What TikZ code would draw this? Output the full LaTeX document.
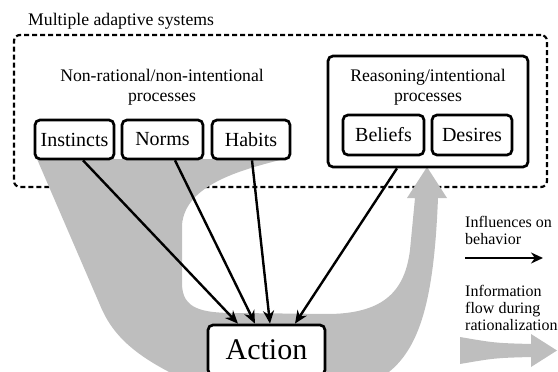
\documentclass[tikz,border=0pt]{standalone}
\usepackage{fontspec}
\setmainfont{Liberation Serif}
\newfontfamily\tnr{Liberation Serif}
\usetikzlibrary{arrows.meta,calc}
\definecolor{flowgray}{RGB}{190,190,190}
\begin{document}
\begin{tikzpicture}[x=1pt,y=-1pt,
  box/.style={draw=black, line width=2.7pt, rounded corners=5pt, fill=white, inner sep=0pt, font=\tnr\fontsize{20}{22}\selectfont},
  hdr/.style={align=center, font=\tnr\fontsize{17.7}{20}\selectfont, inner sep=0pt, anchor=north},
  infl/.style={line width=2.4pt, -{Stealth[length=13pt,width=11pt]}},
  leg/.style={align=left, anchor=north west, font=\tnr\fontsize{16}{17}\selectfont, inner sep=0pt},
  frame/.style={draw=black, line width=2.2pt, dash pattern=on 5pt off 3pt, rounded corners=6pt, inner sep=0pt},
]
\useasboundingbox (0,0) rectangle (558,372);

% outer dashed frame
\node[frame, minimum width=533pt, minimum height=152pt] (mas) at (280.5,111) {};
\node[anchor=base west, inner sep=0pt, font=\tnr\fontsize{17.7}{19}\selectfont] (mastitle) at (28,25) {Multiple adaptive systems};

% gray information flow band
\fill[flowgray] (37,159) -- (284,159)
  .. controls (240,170) and (185,185) .. (182,225)
  -- (182,285)
  .. controls (183,308) and (200,313) .. (235,313)
  -- (330,314)
  .. controls (385,313) and (405,290) .. (410,250)
  -- (415,198) -- (407,198) -- (427,167) -- (447,198) -- (438,198)
  .. controls (434,300) and (420,350) .. (385,375)
  -- (175,375)
  .. controls (135,355) and (112,335) .. (100,305)
  -- cycle;

% non-rational group
\node[hdr] (nonrat) at (162,69) {Non-rational/non-intentional\\processes};
\node[box, minimum width=79pt, minimum height=39pt] (instincts) at (74.5,139.5) {Instincts};
\node[box, minimum width=81pt, minimum height=39pt] (norms) at (162.5,139.5) {Norms};
\node[box, minimum width=78pt, minimum height=39pt] (habits) at (251,139.5) {Habits};

% reasoning group
\node[box, minimum width=200pt, minimum height=111pt] (reason) at (428,111.5) {};
\node[hdr] (reasontitle) at (428,69) {Reasoning/intentional\\processes};
\node[box, minimum width=81pt, minimum height=40pt] (beliefs) at (383.5,135) {Beliefs};
\node[box, minimum width=80pt, minimum height=40pt] (desires) at (472,135) {Desires};

% action
\node[box, minimum width=117pt, minimum height=50pt, font=\tnr\fontsize{30}{32}\selectfont] (action) at (266.5,350) {\raisebox{-2pt}{Action}};

% influences
\draw[infl] ([xshift=8.5pt]instincts.south) -- ([xshift=-28.5pt]action.north);
\draw[infl] ([xshift=12.5pt]norms.south) -- ([xshift=-11.5pt]action.north);
\draw[infl] ([xshift=1pt]habits.south) -- ([xshift=3.5pt]action.north);
\draw[infl] ([xshift=-31pt]reason.south) -- ([xshift=28.5pt]action.north);

% legend
\node[leg] (leg1) at (465,216) {Influences on\\behavior};
\coordinate (la) at (465,258);
\coordinate (lb) at (543,258);
\draw[infl, -{Stealth[length=12pt,width=11pt]}] (la) -- (lb);
\node[leg] (leg2) at (465,285) {Information\\flow during\\rationalization};
\fill[flowgray] (460,337) .. controls (495,343) .. (531,344) -- (531,334) -- (557,350.5)
  -- (531,367) -- (531,357) .. controls (495,358) .. (460,364) -- cycle;
\end{tikzpicture}
\end{document}
